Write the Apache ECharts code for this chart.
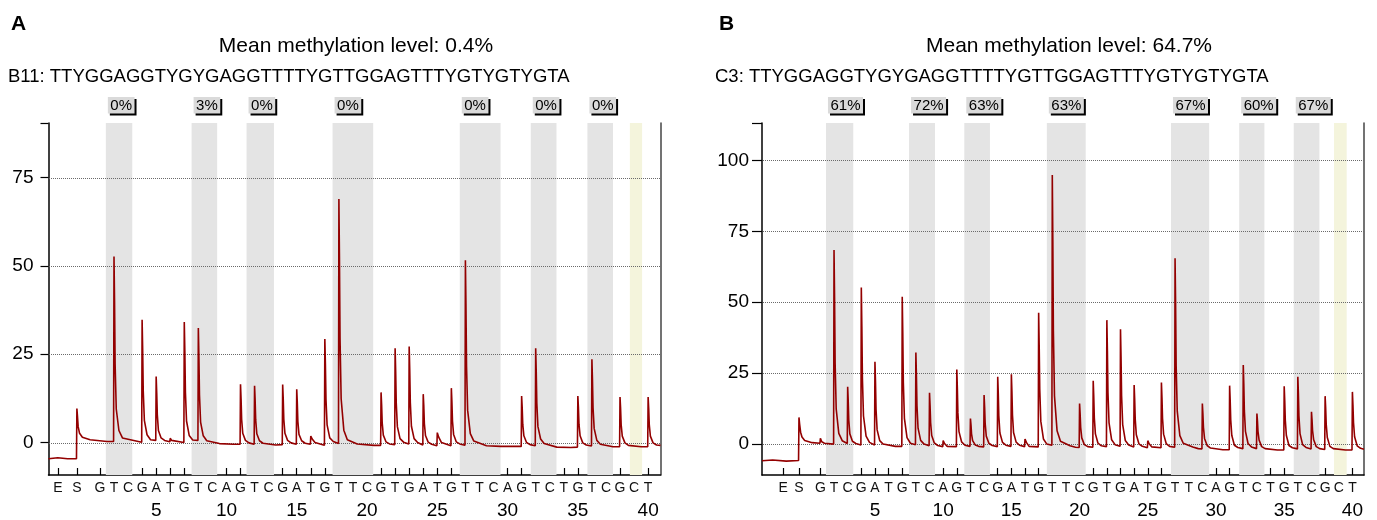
<!DOCTYPE html>
<html><head><meta charset="utf-8">
<script src="https://cdn.jsdelivr.net/npm/echarts@6/dist/echarts.min.js"></script>
<style>html,body{margin:0;padding:0;background:#fff}#c{width:1377px;height:520px}</style>
</head><body><div id="c"></div>
<script>
// ---------- data ----------
const dispLetters = ['E','S','G','T','C','G','A','T','G','T','C','A','G','T','C','G','A','T','G','T','T','C','G','T','G','A','T','G','T','T','C','A','G','T','C','T','G','T','C','G','C','T'];
const dispPosA = [-1.99,-0.64,1,2,3,4,5,6,7,8,9,10,11,12,13,14,15,16,17,18,19,20,21,22,23,24,25,26,27,28,29,30,31,32,33,34,35,36,37,38,39,40];
const dispPosB = [-1.72,-0.57,1,2,3,4,5,6,7,8,9,10,11,12,13,14,15,16,17,18,19,20,21,22,23,24,25,26,27,28,29,30,31,32,33,34,35,36,37,38,39,40];
const numberTicks = [5,10,15,20,25,30,35,40];
const yTicksA = [0,25,50,75];
const yTicksB = [0,25,50,75,100];

const titleA = 'Mean methylation level: 0.4%';
const titleB = 'Mean methylation level: 64.7%';
const seqA = 'B11: TTYGGAGGTYGYGAGGTTTTYGTTGGAGTTTYGTYGTYGTA';
const seqB = 'C3: TTYGGAGGTYGYGAGGTTTTYGTTGGAGTTTYGTYGTYGTA';

const cpgBandsA = [[1.42,3.30],[7.52,9.34],[11.43,13.38],[17.55,20.44],[26.6,29.5],[31.65,33.48],[35.68,37.5]];
const ctrlBandA = [[38.7,39.57]];
const cpgBandsB = [[1.41,3.41],[7.5,9.4],[11.55,13.43],[17.6,20.45],[26.7,29.5],[31.7,33.55],[35.7,37.58]];
const ctrlBandB = [[38.65,39.58]];
const pctA = ['0%','3%','0%','0%','0%','0%','0%'];
const pctB = ['61%','72%','63%','63%','67%','60%','67%'];

const traceA = [
[-2.66,-4.6],[-2.0,-4.3],[-1.3,-4.6],[-0.67,-4.6],[-0.64,9.6],[-0.6,7.5],[-0.55,4.5],[-0.45,2.6],[-0.25,1.5],[0.3,0.8],[1.5,0.3],
[1.97,0.3],[2.0,52.7],[2.04,39.5],[2.08,22.1],[2.16,9.5],[2.35,3.4],[2.6,1.3],
[3.97,0.1],[4.0,34.8],[4.04,26.1],[4.08,14.6],[4.16,6.3],[4.35,2.2],[4.6,0.8],
[4.97,0.6],[5.0,18.7],[5.04,14],[5.08,7.9],[5.16,3.4],[5.35,1.3],[5.6,0.6],
[5.97,0.2],[6.0,1.2],[6.1,0.6],
[6.97,0],[7.0,34.1],[7.04,25.6],[7.08,14.3],[7.16,6.1],[7.35,2],[7.6,0.7],
[7.97,0.6],[8.0,32.4],[8.04,24.3],[8.08,13.6],[8.16,5.8],[8.35,1.9],[8.6,0.5],
[9.5,-0.3],[10.5,-0.5],
[10.97,-0.5],[11.0,16.5],[11.04,12.4],[11.08,6.6],[11.16,2.6],[11.35,0.6],[11.6,-0.1],
[11.97,-0.5],[12.0,16.1],[12.04,12],[12.08,6.4],[12.16,2.5],[12.35,0.5],[12.6,-0.2],
[13.5,-0.7],
[13.97,-0.6],[14.0,16.4],[14.04,12.3],[14.08,6.6],[14.16,2.6],[14.35,0.6],[14.6,-0.1],
[14.97,-0.5],[15.0,15.1],[15.04,11.3],[15.08,6],[15.16,2.3],[15.35,0.5],[15.6,-0.2],
[15.97,-0.5],[16.0,1.8],[16.1,1.0],[16.3,0],
[16.97,-0.8],[17.0,29.3],[17.04,22],[17.08,12.3],[17.16,5],[17.35,1.3],[17.6,0.3],
[17.97,-0.3],[18.0,69],[18.04,52],[18.08,29.5],[18.16,12.4],[18.35,3.5],[18.6,0.8],
[19.3,-0.4],[20.5,-0.8],
[20.97,-0.8],[21.0,14.2],[21.04,10.6],[21.08,5.6],[21.16,2.1],[21.35,0.2],[21.6,-0.4],
[21.97,-0.6],[22.0,26.7],[22.04,20],[22.08,11.2],[22.16,4.5],[22.35,1.1],[22.6,0.1],
[22.97,-0.4],[23.0,27.2],[23.04,20.4],[23.08,11.4],[23.16,4.6],[23.35,1.1],[23.6,0],
[23.97,-0.7],[24.0,13.7],[24.04,10.3],[24.08,5.4],[24.16,2],[24.35,0.1],[24.6,-0.5],
[24.97,-0.9],[25.0,2.8],[25.1,1.5],[25.3,0],
[25.97,-0.9],[26.0,15.4],[26.04,11.5],[26.08,6.1],[26.16,2.3],[26.35,0.2],[26.6,-0.4],
[26.97,-0.8],[27.0,51.6],[27.04,38.7],[27.08,21.7],[27.16,9.1],[27.35,2.5],[27.6,0.4],
[28.5,-0.9],[29.5,-1.1],[30.5,-1.1],
[30.97,-1.1],[31.0,13.2],[31.04,9.9],[31.08,5.2],[31.16,1.9],[31.35,0],[31.6,-0.6],
[31.97,-0.9],[32.0,26.7],[32.04,20],[32.08,11.2],[32.16,4.5],[32.35,1],[32.6,-0.3],
[33.5,-1.3],[34.5,-1.4],
[34.97,-1.3],[35.0,13.2],[35.04,9.9],[35.08,5.2],[35.16,1.9],[35.35,-0.1],[35.6,-0.7],
[35.97,-1],[36.0,23.6],[36.04,17.7],[36.08,9.9],[36.16,4],[36.35,0.6],[36.6,-0.5],
[37.5,-1.2],
[37.97,-1.2],[38.0,12.9],[38.04,9.7],[38.08,5.1],[38.16,1.8],[38.35,-0.1],[38.6,-0.8],
[39.5,-1.2],
[39.97,-1.2],[40.0,12.9],[40.04,9.7],[40.08,5.1],[40.16,1.8],[40.35,-0.1],[40.6,-0.7],[40.88,-0.8]
];

const traceB = [
[-3.28,-5.9],[-2.5,-5.6],[-1.5,-6],[-0.6,-5.8],[-0.57,9.4],[-0.52,7],[-0.45,4.2],[-0.35,2.5],[-0.15,1.3],[0.4,0.5],
[0.97,0.3],[1.0,2],[1.1,0.8],[1.3,0.3],
[1.97,0],[2.0,68.4],[2.04,51.3],[2.08,28.7],[2.16,12.3],[2.35,3.8],[2.6,1.2],
[2.97,0.2],[3.0,20.2],[3.04,15.2],[3.08,8.5],[3.16,3.6],[3.35,1],[3.6,0.2],
[3.97,-0.3],[4.0,55.2],[4.04,41.4],[4.08,23.2],[4.16,9.9],[4.35,2.8],[4.6,0.6],
[4.97,-0.3],[5.0,29],[5.04,21.8],[5.08,12.2],[5.16,5],[5.35,1.2],[5.6,0],
[6.5,-0.8],
[6.97,-0.8],[7.0,51.9],[7.04,38.9],[7.08,21.8],[7.16,9.1],[7.35,2.3],[7.6,0.3],
[7.97,-0.2],[8.0,32.3],[8.04,24.2],[8.08,13.6],[8.16,5.6],[8.35,1.3],[8.6,0],
[8.97,-0.6],[9.0,18.1],[9.04,13.6],[9.08,7.6],[9.16,3],[9.35,0.4],[9.6,-0.5],
[9.97,-0.9],[10.0,1.2],[10.1,0.2],[10.3,-0.8],
[10.97,-0.9],[11.0,26.3],[11.04,19.7],[11.08,11],[11.16,4.4],[11.35,0.8],[11.6,-0.4],
[11.97,-0.8],[12.0,9],[12.04,6.8],[12.08,3.6],[12.16,1.2],[12.35,-0.3],[12.6,-0.8],
[12.97,-1],[13.0,17.3],[13.04,13],[13.08,7.2],[13.16,2.8],[13.35,0.3],[13.6,-0.5],
[13.97,-0.9],[14.0,23.7],[14.04,17.8],[14.08,9.9],[14.16,3.9],[14.35,0.6],[14.6,-0.4],
[14.97,-0.8],[15.0,24.6],[15.04,18.5],[15.08,10.3],[15.16,4.1],[15.35,0.7],[15.6,-0.4],
[15.97,-0.9],[16.0,1.8],[16.1,0.6],[16.3,-0.8],
[16.97,-1],[17.0,46.3],[17.04,34.7],[17.08,19.4],[17.16,8],[17.35,1.8],[17.6,0],
[17.97,-0.4],[18.0,94.9],[18.04,71.2],[18.08,39.9],[18.16,17],[18.35,4.7],[18.6,1],
[19.3,-0.6],[19.7,-1.1],
[19.97,-1.2],[20.0,14.3],[20.04,10.7],[20.08,5.9],[20.16,2.2],[20.35,-0.2],[20.6,-0.9],
[20.97,-1.1],[21.0,22.3],[21.04,16.7],[21.08,9.3],[21.16,3.6],[21.35,0.3],[21.6,-0.6],
[21.97,-0.9],[22.0,43.7],[22.04,32.8],[22.08,18.3],[22.16,7.5],[22.35,1.5],[22.6,-0.2],
[22.97,-0.8],[23.0,40.5],[23.04,30.4],[23.08,17],[23.16,6.9],[23.35,1.3],[23.6,-0.3],
[23.97,-1],[24.0,20.8],[24.04,15.6],[24.08,8.7],[24.16,3.3],[24.35,0.1],[24.6,-0.8],
[24.97,-1.3],[25.0,1.2],[25.1,0.1],[25.3,-1],
[25.97,-1.3],[26.0,21.7],[26.04,16.3],[26.08,9.1],[26.16,3.5],[26.35,0.2],[26.6,-0.8],
[26.97,-1.1],[27.0,65.5],[27.04,49.1],[27.08,27.5],[27.16,11.6],[27.35,3],[27.6,0.3],
[28.3,-1],[28.7,-1.6],
[28.97,-1.7],[29.0,14.3],[29.04,10.7],[29.08,5.9],[29.16,2],[29.35,-0.5],[29.6,-1.4],
[30.5,-2],
[30.97,-2],[31.0,20.6],[31.04,15.5],[31.08,8.6],[31.16,3],[31.35,-0.4],[31.6,-1.2],
[31.97,-1.6],[32.0,27.9],[32.04,20.9],[32.08,11.7],[32.16,4.5],[32.35,0.2],[32.6,-1],
[32.97,-1.6],[33.0,10.8],[33.04,8.1],[33.08,4.4],[33.16,1.4],[33.35,-0.9],[33.6,-1.6],
[34.5,-2.1],
[34.97,-2.1],[35.0,20.4],[35.04,15.3],[35.08,8.5],[35.16,3],[35.35,-0.5],[35.6,-1.3],
[35.97,-1.7],[36.0,23.7],[36.04,17.8],[36.08,9.9],[36.16,3.7],[36.35,-0.2],[36.6,-1.2],
[36.97,-1.7],[37.0,11.4],[37.04,8.6],[37.08,4.7],[37.16,1.5],[37.35,-0.9],[37.6,-1.6],
[37.97,-1.9],[38.0,16.9],[38.04,12.7],[38.08,7],[38.16,2.3],[38.35,-0.8],[38.6,-1.6],
[39.5,-2.1],
[39.97,-2.1],[40.0,18.4],[40.04,13.8],[40.08,7.6],[40.16,2.6],[40.35,-0.6],[40.6,-1.5],[40.85,-1.8]
];

// ---------- layout / style ----------
const FONT = '"Liberation Sans", Arial, sans-serif';
const panels = [
  {grid:{left:48.5, top:123, width:612, height:352}, xMin:-2.66, xMax:40.88, yMin:-9.2, yMax:90.5,
   pos:dispPosA, yTicks:yTicksA, bands:cpgBandsA, ctrl:ctrlBandA, pct:pctA, trace:traceA, tickLen:8, labMargin:15},
  {grid:{left:762, top:123, width:602, height:352}, xMin:-3.28, xMax:40.85, yMin:-10.9, yMax:113.2,
   pos:dispPosB, yTicks:yTicksB, bands:cpgBandsB, ctrl:ctrlBandB, pct:pctB, trace:traceB, tickLen:10, labMargin:13}
];

const mctx = document.createElement('canvas').getContext('2d');
mctx.font = '15px ' + FONT;

const chart = echarts.init(document.getElementById('c'), null, {renderer:'canvas'});
const grids=[], xAxes=[], yAxes=[], series=[];
panels.forEach((p, gi) => {
  grids.push(Object.assign({outerBoundsMode:'none', containLabel:false}, p.grid));
  const xi = xAxes.length, yi = yAxes.length;
  xAxes.push({type:'value', gridIndex:gi, min:p.xMin, max:p.xMax, position:'bottom',
    axisLine:{show:true, onZero:false, lineStyle:{color:'#000', width:1.5}},
    axisTick:{show:true, inside:true, length:7, customValues:p.pos, lineStyle:{color:'#000', width:1.2}},
    axisLabel:{show:true, customValues:p.pos, margin:6, color:'#111', fontSize:14, fontFamily:FONT,
      formatter:v => { let b=0, d=1e9; p.pos.forEach((q,i)=>{ const dd=Math.abs(q-v); if(dd<d){d=dd;b=i;} }); return dispLetters[b]; }},
    splitLine:{show:false}});
  xAxes.push({type:'value', gridIndex:gi, min:p.xMin, max:p.xMax, position:'bottom', offset:20,
    axisLine:{show:false}, axisTick:{show:false},
    axisLabel:{show:true, customValues:numberTicks, margin:6, color:'#000', fontSize:19, fontFamily:FONT},
    splitLine:{show:false}});
  yAxes.push({type:'value', gridIndex:gi, min:p.yMin, max:p.yMax, position:'left',
    axisLine:{show:true, onZero:false, lineStyle:{color:'#000', width:1.5}},
    axisTick:{show:true, inside:false, length:p.tickLen, customValues:p.yTicks.concat([p.yMax]), lineStyle:{color:'#000', width:1.2}},
    axisLabel:{show:true, customValues:p.yTicks, margin:p.labMargin, color:'#000', fontSize:19, fontFamily:FONT},
    splitLine:{show:false}});
  yAxes.push({type:'value', gridIndex:gi, min:p.yMin, max:p.yMax, position:'right',
    axisLine:{show:true, onZero:false, lineStyle:{color:'#444', width:1.5}},
    axisTick:{show:false}, axisLabel:{show:false}, splitLine:{show:false}});

  const bandSeries = (data, color) => ({type:'custom', xAxisIndex:xi, yAxisIndex:yi, silent:true, z:1,
    data:data, renderItem:(params, api) => {
      const a = api.coord([api.value(0), p.yMax]);
      const b = api.coord([api.value(1), p.yMin]);
      return {type:'rect', shape:{x:a[0], y:a[1], width:b[0]-a[0], height:b[1]-a[1]}, style:{fill:color}};
    }});
  series.push(bandSeries(p.bands, '#e4e4e4'));
  series.push(bandSeries(p.ctrl, '#f4f4dc'));
  // dotted gridlines
  series.push({type:'custom', xAxisIndex:xi, yAxisIndex:yi, silent:true, z:2,
    data:p.yTicks.map(v=>[v]), renderItem:(params, api) => {
      const v = api.value(0);
      const a = api.coord([p.xMin, v]), b = api.coord([p.xMax, v]);
      const yy = Math.round(a[1]) + 0.5;
      return {type:'line', shape:{x1:Math.round(a[0])+1, y1:yy, x2:Math.round(b[0]), y2:yy},
        style:{stroke:'#6a6a6a', lineWidth:1, lineDash:[1,1]}};
    }});
  // trace
  series.push({type:'line', xAxisIndex:xi, yAxisIndex:yi, data:p.trace, showSymbol:false, symbol:'none',
    z:3, silent:true, lineStyle:{color:'#930000', width:1.6}, clip:true});
  // percentage boxes
  series.push({type:'custom', xAxisIndex:xi, yAxisIndex:yi, silent:true, z:4, clip:false,
    data:p.bands, renderItem:(params, api) => {
      const lab = p.pct[params.dataIndex];
      const c = api.coord([api.value(0), p.yMax]);
      const w = mctx.measureText(lab).width + 5, h = 16.5;
      const x0 = c[0] + 2, y0 = c[1] - 26;
      return {type:'group', children:[
        {type:'rect', shape:{x:x0+2, y:y0+2, width:w, height:h}, style:{fill:'#000'}},
        {type:'rect', shape:{x:x0, y:y0, width:w, height:h}, style:{fill:'#dadada'}},
        {type:'text', x:x0+w/2, y:y0+h/2+0.5, style:{text:lab, fill:'#000', font:'15px '+FONT, align:'center', verticalAlign:'middle'}}
      ]};
    }});
});

const txt = (s, x, y, font, align) => ({type:'text', x:x, y:y, silent:true,
  style:{text:s, fill:'#000', font:font, align:align||'left', verticalAlign:'top'}});

chart.setOption({
  animation:false,
  grid:grids, xAxis:xAxes, yAxis:yAxes, series:series,
  graphic:[
    txt('A', 11, 13.5, 'bold 21px '+FONT),
    txt('B', 719, 13.5, 'bold 21px '+FONT),
    txt(titleA, 356, 36, '21px '+FONT, 'center'),
    txt(titleB, 1069, 36, '21px '+FONT, 'center'),
    txt(seqA, 8, 67.5, '18.5px '+FONT),
    txt(seqB, 715, 67.5, '18.5px '+FONT)
  ]
});
</script></body></html>
